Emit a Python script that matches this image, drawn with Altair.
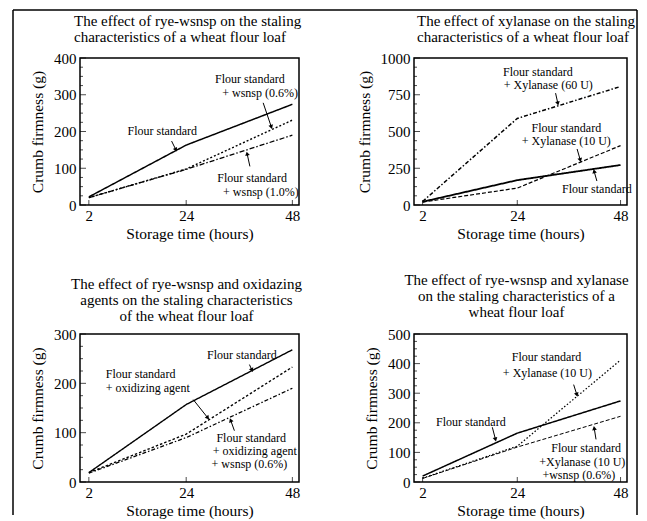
import math
import altair as alt
import pandas as pd

FONT = "Liberation Serif"

hours = [2, 24, 48]

# ---------- panel 1: rye-wsnsp ----------
p1_names = ["Flour standard", "Flour standard + wsnsp (0.6%)", "Flour standard + wsnsp (1.0%)"]
p1_fs = [22, 163, 274]
p1_w06 = [20, 98, 231]
p1_w10 = [20, 97, 190]
p1_yticks = [0, 100, 200, 300, 400]
p1_note_text = ["Flour standard", "Flour standard", "+ wsnsp (0.6%)", "Flour standard", "+ wsnsp (1.0%)"]
p1_note_x = [18.6, 38.4, 40.7, 38.9, 40.9]
p1_note_y = [201, 343, 305, 73, 35]
p1_arr_x1 = [20.7, 41.4, 38.4]
p1_arr_y1 = [174, 278, 105]
p1_arr_x2 = [21.6, 43.2, 37.8]
p1_arr_y2 = [152, 214, 138]

# ---------- panel 2: xylanase ----------
p2_names = ["Flour standard", "Flour standard + Xylanase (60 U)", "Flour standard + Xylanase (10 U)"]
p2_fs = [22, 169, 272]
p2_x60 = [24, 589, 806]
p2_x10 = [20, 115, 404]
p2_yticks = [0, 250, 500, 750, 1000]
p2_note_text = ["Flour standard", "+ Xylanase (60 U)", "Flour standard", "+ Xylanase (10 U)", "Flour standard"]
p2_note_x = [28.8, 31.2, 35.4, 35.4, 42.5]
p2_note_y = [908, 817, 527, 435, 110]
p2_arr_x1 = [32.9, 37.9, 42.5]
p2_arr_y1 = [761, 381, 163]
p2_arr_x2 = [33.4, 38.6, 41.9]
p2_arr_y2 = [695, 310, 225]

# ---------- panel 3: rye-wsnsp + oxidizing agents ----------
p3_names = ["Flour standard", "Flour standard + oxidizing agent", "Flour standard + oxidizing agent + wsnsp (0.6%)"]
p3_fs = [19, 157, 268]
p3_ox = [19, 97, 233]
p3_oxw = [18, 90, 190]
p3_yticks = [0, 100, 200, 300]
p3_note_text = ["Flour standard", "Flour standard", "+ oxidizing agent", "Flour standard", "+ oxidizing agent", "+ wsnsp (0.6%)"]
p3_note_x = [36.6, 13.7, 15.3, 38.7, 39.5, 38.3]
p3_note_y = [257, 219, 191, 90, 63, 36]
p3_arr_x1 = [38.3, 25.6, 34.9]
p3_arr_y1 = [238, 167, 104]
p3_arr_x2 = [38.8, 28.8, 34.1]
p3_arr_y2 = [228, 131, 124]

# ---------- panel 4: rye-wsnsp + xylanase ----------
p4_names = ["Flour standard", "Flour standard + Xylanase (10 U)", "Flour standard + Xylanase (10 U) + wsnsp (0.6%)"]
p4_fs = [20, 165, 274]
p4_x10 = [13, 121, 412]
p4_xw = [12, 118, 222]
p4_yticks = [0, 100, 200, 300, 400, 500]
p4_note_text = ["Flour standard", "+ Xylanase (10 U)", "Flour standard", "Flour standard", "+Xylanase (10 U)", "+wsnsp (0.6%)"]
p4_note_x = [30.8, 31.0, 13.2, 40.0, 39.1, 38.3]
p4_note_y = [421, 369, 202, 116, 69, 24]
p4_arr_x1 = [37.1, 18.2, 42.3]
p4_arr_y1 = [329, 185, 144]
p4_arr_x2 = [37.8, 18.9, 41.9]
p4_arr_y2 = [297, 146, 180]

XDOM = [0, 49.5]


def make_panel(title, anchor, align, dx, offset, names, series, dashes, widths, ymax, yticks,
               w, h, nt, nx, ny, ax1, ay1, ax2, ay2, frame=None):
    rows = []
    for name, vals in zip(names, series):
        for hh, v in zip(hours, vals):
            rows.append({"s": name, "h": hh, "v": v})
    df = pd.DataFrame(rows)

    xs = alt.Scale(domain=XDOM, nice=False, zero=False)
    ys = alt.Scale(domain=[0, ymax], nice=False)
    xa = alt.Axis(values=hours, title="Storage time (hours)", format="d")
    ya = alt.Axis(values=yticks, title="Crumb firmness (g)", format="d")

    lines = alt.Chart(df).mark_line(color="black").encode(
        x=alt.X("h:Q", scale=xs, axis=xa),
        y=alt.Y("v:Q", scale=ys, axis=ya),
        strokeDash=alt.StrokeDash("s:N", scale=alt.Scale(domain=names, range=dashes), legend=None),
        strokeWidth=alt.StrokeWidth("s:N", scale=alt.Scale(domain=names, range=widths), legend=None),
        detail="s:N",
    )

    notes = alt.Chart(pd.DataFrame({"t": nt, "x": nx, "y": ny})).mark_text(
        font=FONT, fontSize=12, color="black", align="center", baseline="middle"
    ).encode(
        x=alt.X("x:Q", scale=xs, axis=xa),
        y=alt.Y("y:Q", scale=ys, axis=ya),
        text="t:N",
    )

    sx = w / (XDOM[1] - XDOM[0])
    sy = h / ymax
    angs = []
    for a, b, c, d in zip(ax1, ay1, ax2, ay2):
        ddx = (c - a) * sx
        ddy = -(d - b) * sy
        angs.append(math.degrees(math.atan2(ddx, -ddy)) % 360)
    adf = pd.DataFrame({"x1": ax1, "y1": ay1, "x2": ax2, "y2": ay2, "ang": angs})

    shafts = alt.Chart(adf).mark_rule(color="black", strokeWidth=1).encode(
        x=alt.X("x1:Q", scale=xs, axis=xa),
        y=alt.Y("y1:Q", scale=ys, axis=ya),
        x2="x2:Q",
        y2="y2:Q",
    )
    heads = alt.Chart(adf).mark_point(shape="triangle", filled=True, size=22, color="black", opacity=1).encode(
        x=alt.X("x2:Q", scale=xs, axis=xa),
        y=alt.Y("y2:Q", scale=ys, axis=ya),
        angle=alt.Angle("ang:Q", scale=None),
    )

    # inward tick marks on the frame (major at labels, minor at quarter steps)
    step = yticks[1] - yticks[0]
    minor = [yticks[0] + k * step / 4 for k in range(4 * (len(yticks) - 1) + 1) if k % 4 != 0]
    xt = alt.Chart(pd.DataFrame({"h": hours})).mark_tick(
        color="black", thickness=1, size=5, orient="vertical"
    ).encode(x=alt.X("h:Q", scale=xs, axis=xa), y=alt.value(h - 2.5))
    yt = alt.Chart(pd.DataFrame({"v": yticks})).mark_tick(
        color="black", thickness=1, size=6, orient="horizontal"
    ).encode(y=alt.Y("v:Q", scale=ys, axis=ya), x=alt.value(3))
    ytm = alt.Chart(pd.DataFrame({"v": minor})).mark_tick(
        color="black", thickness=1, size=3, orient="horizontal"
    ).encode(y=alt.Y("v:Q", scale=ys, axis=ya), x=alt.value(1.5))

    layers = [lines, xt, yt, ytm, shafts, heads, notes]
    if frame:
        one = pd.DataFrame({"k": [0]})
        for f in frame:
            if f[0] == "v":
                layers.append(alt.Chart(one).mark_rule(color="black", strokeWidth=1.5).encode(
                    x=alt.value(f[1]), y=alt.value(f[2]), y2=alt.value(f[3])))
            else:
                layers.append(alt.Chart(one).mark_rule(color="black", strokeWidth=1.5).encode(
                    y=alt.value(f[1]), x=alt.value(f[2]), x2=alt.value(f[3])))

    return alt.layer(*layers).properties(
        width=w, height=h,
        title=alt.Title(text=title, font=FONT, fontSize=15, fontWeight="normal", color="black",
                        anchor=anchor, align=align, dx=dx, offset=offset, lineHeight=16,
                        frame="group"),
    )


solid = [1, 0]

W1, W2 = 219, 213
H1, H2 = 147, 148

p1 = make_panel(
    ["The effect of rye-wsnsp on the staling", "characteristics of a wheat flour loaf"],
    "start", "left", -6, -36, p1_names, [p1_fs, p1_w06, p1_w10],
    [solid, [2, 2], [5, 2, 1.5, 2]], [1.5, 1.3, 1.3], 400, p1_yticks, W1, H1,
    p1_note_text, p1_note_x, p1_note_y, p1_arr_x1, p1_arr_y1, p1_arr_x2, p1_arr_y2,
    frame=[("v", -67, -48, 457), ("h", -48, -67, 557)],
)
p2 = make_panel(
    ["The effect of xylanase on the staling", "characteristics of a wheat flour loaf"],
    "start", "left", 3, -36, p2_names, [p2_fs, p2_x60, p2_x10],
    [solid, [4, 2, 1.5, 2], [4, 2]], [1.8, 1.2, 1.3], 1000, p2_yticks, W2, H1,
    p2_note_text, p2_note_x, p2_note_y, p2_arr_x1, p2_arr_y1, p2_arr_x2, p2_arr_y2,
    frame=[("v", 223, -48, 457)],
)
p3 = make_panel(
    ["The effect of rye-wsnsp and oxidazing", "agents on the staling characteristics", "of the wheat flour loaf"],
    "middle", "center", -3, 3, p3_names, [p3_fs, p3_ox, p3_oxw],
    [solid, [2.5, 2], [4, 2, 1.5, 2]], [1.4, 1.3, 1.2], 300, p3_yticks, W1, H2,
    p3_note_text, p3_note_x, p3_note_y, p3_arr_x1, p3_arr_y1, p3_arr_x2, p3_arr_y2,
)
p4 = make_panel(
    ["The effect of rye-wsnsp and xylanase", "on the staling characteristics of a", "wheat flour loaf"],
    "middle", "center", -4, 7, p4_names, [p4_fs, p4_x10, p4_xw],
    [solid, [1.5, 2], [4, 2]], [1.5, 1.0, 2.2], 500, p4_yticks, W2, H2,
    p4_note_text, p4_note_x, p4_note_y, p4_arr_x1, p4_arr_y1, p4_arr_x2, p4_arr_y2,
)

chart = alt.concat(
    p1, p2, p3, p4, columns=2, spacing={"row": 129, "column": 115}, bounds="flush"
).resolve_scale(
    strokeDash="independent", strokeWidth="independent"
).properties(
    padding={"left": 3, "top": 0, "right": 0, "bottom": 0}
).configure_view(
    stroke="black", strokeWidth=1.5
).configure_axis(
    labelFont=FONT, labelFontSize=15, labelColor="black",
    titleFont=FONT, titleFontSize=15.5, titleFontWeight="normal", titleColor="black",
    domain=False, ticks=False, grid=False,
).configure_axisY(
    labelPadding=4, titlePadding=8,
).configure_axisX(
    labelPadding=3, titlePadding=3,
)

chart.save("out.html", embed_options={"renderer": "svg", "actions": False})
